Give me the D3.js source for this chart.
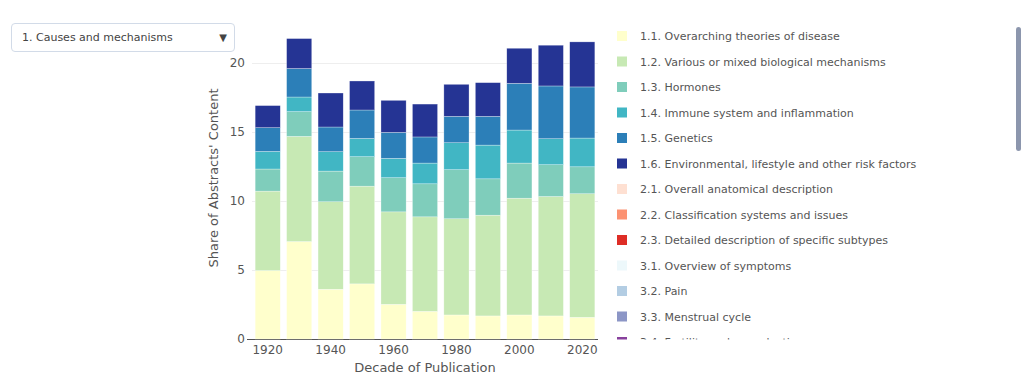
<!DOCTYPE html>
<html>
<head>
<meta charset="utf-8">
<script src="https://cdn.jsdelivr.net/npm/d3@7"></script>
<style>
  body { margin: 0; background: #fff; font-family: "DejaVu Sans", Verdana, sans-serif; }
  #chart { position: relative; width: 1024px; height: 375px; overflow: hidden; }
  .select {
    position: absolute; left: 11px; top: 23px; width: 224px; height: 29px;
    border: 1px solid #d2dbe8; border-radius: 4px; box-sizing: border-box;
    font-size: 11px; color: #444; line-height: 27px; padding-left: 10px;
  }
  .select span { position: absolute; right: 7px; top: 0; font-size: 10px; }
</style>
</head>
<body>
<div id="chart">
  <div class="select">1. Causes and mechanisms<span>▼</span></div>
  <svg></svg>
</div>
<script>
const decades = [1920, 1930, 1940, 1950, 1960, 1970, 1980, 1990, 2000, 2010, 2020];

// shares per sub-category, one value per decade
const overarching = [4.95, 7.05, 3.6, 3.99, 2.51, 2.0, 1.74, 1.67, 1.74, 1.67, 1.57];
const biological  = [5.75, 7.61, 6.33, 7.07, 6.69, 6.84, 6.96, 7.29, 8.45, 8.64, 8.94];
const hormones    = [1.6, 1.79, 2.22, 2.13, 2.47, 2.39, 3.55, 2.63, 2.54, 2.3, 1.95];
const immune      = [1.27, 1.06, 1.4, 1.32, 1.4, 1.5, 1.95, 2.44, 2.39, 1.88, 2.08];
const genetics    = [1.72, 2.06, 1.79, 2.06, 1.88, 1.89, 1.91, 2.08, 3.38, 3.82, 3.7];
const environment = [1.6, 2.17, 2.46, 2.1, 2.32, 2.38, 2.32, 2.44, 2.54, 2.95, 3.26];

const seriesNames = [
  "1.1. Overarching theories of disease",
  "1.2. Various or mixed biological mechanisms",
  "1.3. Hormones",
  "1.4. Immune system and inflammation",
  "1.5. Genetics",
  "1.6. Environmental, lifestyle and other risk factors",
  "2.1. Overall anatomical description",
  "2.2. Classification systems and issues",
  "2.3. Detailed description of specific subtypes",
  "3.1. Overview of symptoms",
  "3.2. Pain",
  "3.3. Menstrual cycle",
  "3.4. Fertility and reproduction"
];
const seriesColors = [
  "#ffffcc", "#c7e9b4", "#7fcdbb", "#41b6c4", "#2c7fb8", "#253494",
  "#fee0d2", "#fc9272", "#de2d26",
  "#edf8fb", "#b3cde3", "#8c96c6", "#88419d"
];
const shownSeries = [overarching, biological, hormones, immune, genetics, environment];
const yTicks = [0, 5, 10, 15, 20];

const width = 1024;
const height = 375;
const margin = { top: 17, left: 252, bottom: 36, right: 426 };
const iwidth = width - margin.left - margin.right;
const iheight = height - margin.top - margin.bottom;

const svg = d3.select("svg").attr("width", width).attr("height", height)
  .style("position", "absolute").style("left", 0).style("top", 0);

const rows = decades.map((d, i) => {
  const r = { decade: d };
  shownSeries.forEach((s, j) => r[seriesNames[j]] = s[i]);
  return r;
});
const stack = d3.stack().keys(seriesNames.slice(0, shownSeries.length))(rows);

const x = d3.scaleBand()
  .domain(decades)
  .range([0, iwidth])
  .paddingInner(0.2)
  .paddingOuter(0.1);

const y = d3.scaleLinear()
  .domain([0, 23.3])
  .range([iheight, 0]);

let g = svg.append("g").attr("transform", `translate(${margin.left},${margin.top})`);

// grid
g.append("g").selectAll("line").data(yTicks.slice(1)).enter().append("line")
  .attr("x1", 0).attr("x2", iwidth)
  .attr("y1", d => Math.round(y(d)) + 0.5).attr("y2", d => Math.round(y(d)) + 0.5)
  .attr("stroke", "#eeeeee");

// baseline
g.append("line")
  .attr("x1", -5).attr("x2", iwidth)
  .attr("y1", iheight + 0.5).attr("y2", iheight + 0.5)
  .attr("stroke", "#555").attr("stroke-width", 1);

// bars
stack.forEach((layer, j) => {
  g.append("g").selectAll("rect").data(layer).enter().append("rect")
    .attr("x", d => x(d.data.decade))
    .attr("width", x.bandwidth())
    .attr("y", d => y(d[1]))
    .attr("height", d => y(d[0]) - y(d[1]))
    .attr("fill", seriesColors[j])
    .attr("stroke", "#fff").attr("stroke-width", 0.5).attr("stroke-opacity", 0.6);
});

// y axis
const yAxis = g.append("g")
  .call(d3.axisLeft(y).tickValues(yTicks).tickSize(0).tickPadding(7));
yAxis.select(".domain").remove();
yAxis.selectAll("text").attr("fill", "#555").style("font-size", "12px")
  .style("font-family", "DejaVu Sans, Verdana, sans-serif");

// x axis
const xAxis = g.append("g")
  .attr("transform", `translate(0, ${iheight})`)
  .call(d3.axisBottom(x).tickValues(decades.filter(d => d % 20 === 0)).tickSize(0).tickPadding(6));
xAxis.select(".domain").remove();
xAxis.selectAll("text").attr("fill", "#555").style("font-size", "12px")
  .style("font-family", "DejaVu Sans, Verdana, sans-serif");

// titles
svg.append("text")
  .attr("x", margin.left + iwidth / 2).attr("y", 372)
  .attr("text-anchor", "middle").attr("fill", "#555").style("font-size", "13px")
  .text("Decade of Publication");

svg.append("text")
  .attr("transform", `translate(218, ${margin.top + iheight / 2}) rotate(-90)`)
  .attr("text-anchor", "middle").attr("fill", "#555").style("font-size", "13px")
  .text("Share of Abstracts' Content");

// legend (scrollable box, clipped)
svg.append("clipPath").attr("id", "legclip")
  .append("rect").attr("x", 605).attr("y", 20).attr("width", 400).attr("height", 319.5);

const legend = svg.append("g").attr("clip-path", "url(#legclip)");
const item = legend.selectAll("g").data(seriesNames).enter().append("g")
  .attr("transform", (d, i) => `translate(617, ${36 + i * 25.5})`);
item.append("rect")
  .attr("x", 0).attr("y", -5).attr("width", 10).attr("height", 10)
  .attr("fill", (d, i) => seriesColors[i]);
item.append("text")
  .attr("x", 23).attr("y", 4)
  .attr("fill", "#555").style("font-size", "11px")
  .text(d => d);

// legend scrollbar
svg.append("rect")
  .attr("x", 1016).attr("y", 27).attr("width", 5).attr("height", 124)
  .attr("rx", 2.5).attr("fill", "#808ba4").attr("opacity", 0.9);
</script>
</body>
</html>
